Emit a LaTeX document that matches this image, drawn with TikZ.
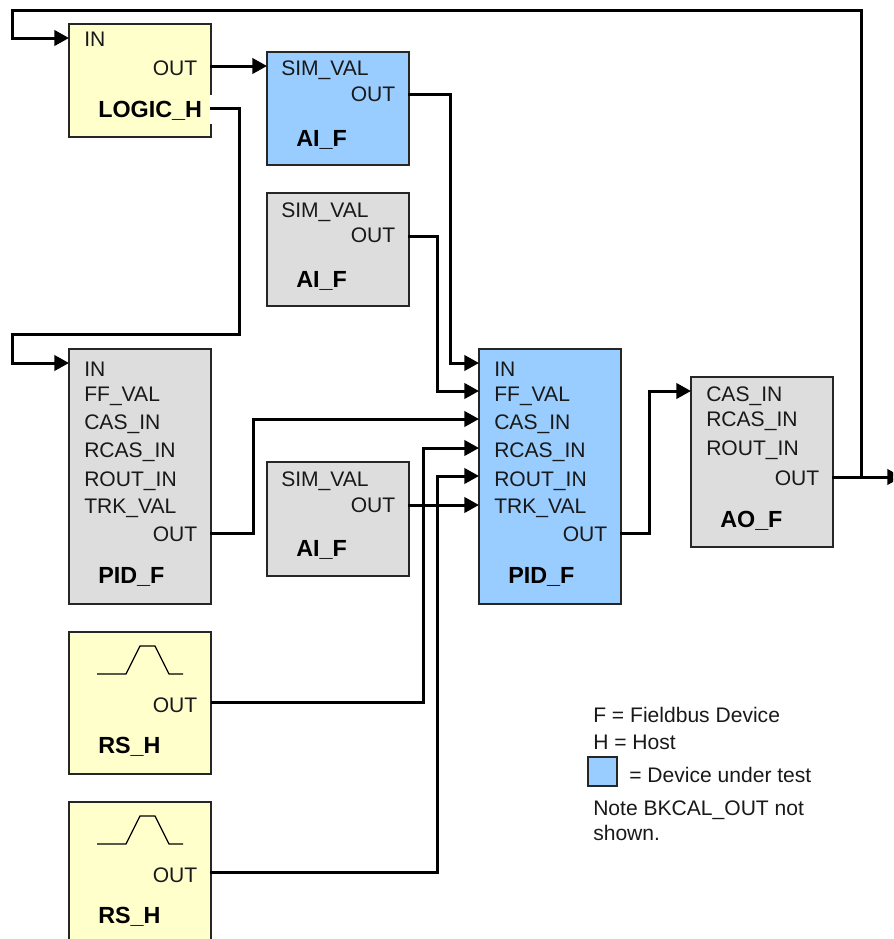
\documentclass[tikz,border=0pt]{standalone}
\usepackage{fontspec}
\setmainfont{Liberation Sans}
\usetikzlibrary{arrows.meta}
\newcommand{\blk}[6]{\node[blockbox,#6,minimum width={(#4-#2)*0.75pt},minimum height={(#5-#3)*0.75pt}] (#1) at ({(#2+#4)/2},{(#3+#5)/2}) {};}
\newcommand{\lbl}[4]{\node[plainlbl] (#1) at (#2,#3) {#4};}
\newcommand{\blbl}[4]{\node[boldlbl] (#1) at (#2,#3) {#4};}
\tikzset{
  x=0.75pt,y=-0.75pt,
  blockbox/.style={draw=black!85,line width=1.1pt,inner sep=0pt,rectangle},
  yel/.style={fill=yellowbox},
  blu/.style={fill=bluebox},
  gry/.style={fill=graybox},
  plainlbl/.style={anchor=base west,inner sep=0pt,font=\fontsize{15.8pt}{18pt}\selectfont,text=black!90},
  boldlbl/.style={anchor=base west,inner sep=0pt,font=\fontsize{17.5pt}{20pt}\selectfont\bfseries,text=black},
  conn/.style={draw=black,line width=2.25pt,miter limit=10},
  arr/.style={conn,-{Triangle[length=11pt,width=11.5pt,sep=0pt]}},
  pulse/.style={draw=black,line width=0.9pt},
}
\definecolor{yellowbox}{HTML}{FFFFCC}
\definecolor{bluebox}{HTML}{99CCFF}
\definecolor{graybox}{HTML}{DDDDDD}
\begin{document}
\begin{tikzpicture}
\useasboundingbox (0,0) rectangle (893,939);
\clip (0,0) rectangle (893,939);
% blocks
\blk{logic}{69}{24}{211}{137}{yel}
\blk{aiA}{267}{52}{409}{165}{blu}
\blk{aiB}{267}{193}{409}{306}{gry}
\blk{pidL}{69}{349}{211}{604}{gry}
\blk{aiC}{267}{462}{409}{576}{gry}
\blk{pidR}{479}{349}{621}{604}{blu}
\blk{ao}{691}{377}{833}{547}{gry}
\blk{rsA}{69}{632}{211}{774}{yel}
\blk{rsB}{69}{802}{211}{944}{yel}
\blk{swatch}{588}{757}{617}{786}{blu}
% small white gap in the LOGIC_H edge
\coordinate (gapA) at (211,95); \coordinate (gapB) at (211,124);
\draw[white,line width=1.2pt] (gapA) -- (gapB);
% labels
\lbl{tIn}{84}{46}{IN}
\lbl{tOut}{152.5}{75}{OUT}
\blbl{tLogic}{98}{117}{LOGIC\_H}
\lbl{t1a}{281}{75}{SIM\_VAL}
\lbl{t1b}{350.5}{101}{OUT}
\blbl{t1c}{296}{146}{AI\_F}
\lbl{t2a}{281}{217}{SIM\_VAL}
\lbl{t2b}{350.5}{242}{OUT}
\blbl{t2c}{296}{287}{AI\_F}
\lbl{t3a}{281}{486}{SIM\_VAL}
\lbl{t3b}{350.5}{512}{OUT}
\blbl{t3c}{296}{556}{AI\_F}
\lbl{pa}{84}{376}{IN}
\lbl{pb}{84}{401}{FF\_VAL}
\lbl{pc}{84}{429}{CAS\_IN}
\lbl{pd}{84}{457}{RCAS\_IN}
\lbl{pe}{84}{486}{ROUT\_IN}
\lbl{pf}{84}{513}{TRK\_VAL}
\lbl{pg}{152.5}{541}{OUT}
\blbl{ph}{98}{583}{PID\_F}
\lbl{qa}{494}{376}{IN}
\lbl{qb}{494}{401}{FF\_VAL}
\lbl{qc}{494}{429}{CAS\_IN}
\lbl{qd}{494}{457}{RCAS\_IN}
\lbl{qe}{494}{486}{ROUT\_IN}
\lbl{qf}{494}{513}{TRK\_VAL}
\lbl{qg}{562.5}{541}{OUT}
\blbl{qh}{508}{583}{PID\_F}
\lbl{ra}{706}{401}{CAS\_IN}
\lbl{rb}{706}{426}{RCAS\_IN}
\lbl{rc}{706}{455}{ROUT\_IN}
\lbl{rd}{774.5}{485}{OUT}
\blbl{re}{720}{527}{AO\_F}
\lbl{sa}{152.5}{712}{OUT}
\blbl{sb}{98}{753}{RS\_H}
\lbl{ua}{152.5}{882}{OUT}
\blbl{ub}{98}{923}{RS\_H}
% legend
\lbl{la}{593}{722}{F = Fieldbus Device}
\lbl{lb}{593}{749}{H = Host}
\lbl{lc}{629}{782}{= Device under test}
\lbl{ld}{593}{815}{Note BKCAL\_OUT not}
\lbl{le}{593}{840}{shown.}
% pulse glyphs
\draw[pulse] (97,674) -- (126,674) -- (140,646) -- (155,646) -- (169,674) -- (183,674);
\draw[pulse] (97,844) -- (126,844) -- (140,816) -- (155,816) -- (169,844) -- (183,844);
% ports and bends
\coordinate (logicIn) at (69,38);
\coordinate (logicOut) at (210,66);
\coordinate (logicH) at (210,108);
\coordinate (aiAin) at (267,66);
\coordinate (aiAout) at (408,94);
\coordinate (aiBout) at (408,236);
\coordinate (aiCout) at (408,505);
\coordinate (pidLin) at (69,363);
\coordinate (pidLout) at (210,533);
\coordinate (rIn) at (479,363);
\coordinate (rFf) at (479,391);
\coordinate (rCas) at (479,419);
\coordinate (rRcas) at (479,448);
\coordinate (rRout) at (479,476);
\coordinate (rTrk) at (479,505);
\coordinate (rOut) at (620,533);
\coordinate (aoIn) at (691,391);
\coordinate (aoOut) at (832,477);
\coordinate (exit) at (902,477);
\coordinate (jct) at (861,477);
\coordinate (topR) at (861,10);
\coordinate (topL) at (12,10);
\coordinate (midA) at (239,334);
\coordinate (midB) at (12,334);
\coordinate (busA) at (450,200);
\coordinate (busB) at (437,300);
\coordinate (busC) at (253,480);
\coordinate (busD) at (423,600);
\coordinate (busE) at (437,700);
\coordinate (busF) at (649,460);
\coordinate (rsAout) at (211,702);
\coordinate (rsBout) at (210,872);
% connectors
\draw[arr] (aoOut) -- (exit);
\draw[arr] (jct) -- (topR) -- (topL) |- (logicIn);
\draw[arr] (logicOut) -- (aiAin);
\draw[arr] (logicH) -| (midA) -- (midB) |- (pidLin);
\draw[arr] (aiAout) -| (busA) |- (rIn);
\draw[arr] (aiBout) -| (busB) |- (rFf);
\draw[arr] (pidLout) -| (busC) |- (rCas);
\draw[arr] (rsAout) -| (busD) |- (rRcas);
\draw[arr] (rsBout) -| (busE) |- (rRout);
\draw[arr] (aiCout) -- (rTrk);
\draw[arr] (rOut) -| (busF) |- (aoIn);
\end{tikzpicture}
\end{document}
